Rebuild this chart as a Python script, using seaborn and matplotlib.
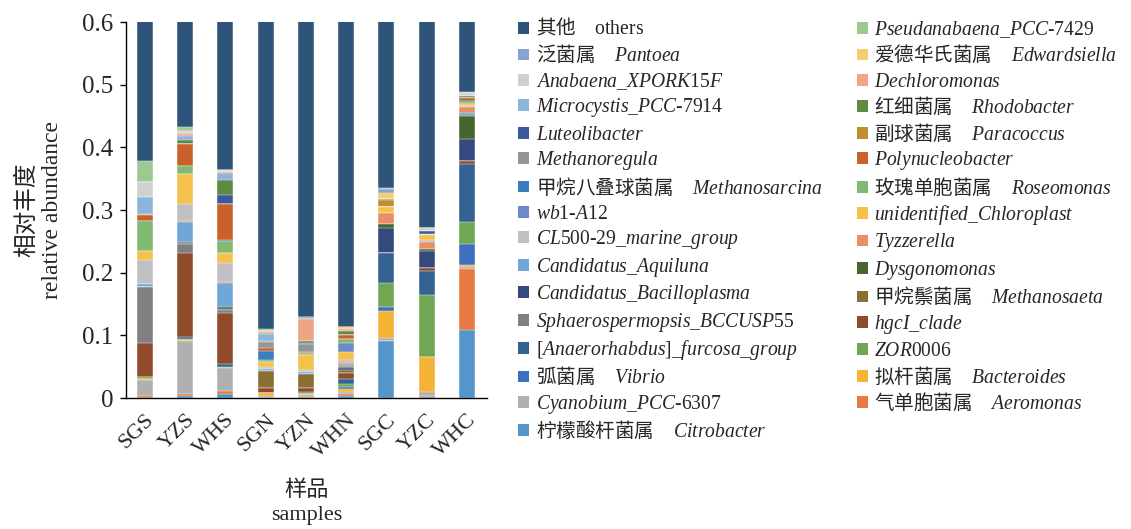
import numpy as np
import matplotlib
matplotlib.use("Agg")
import matplotlib.pyplot as plt
import seaborn as sns
from matplotlib.patches import Patch
from matplotlib.ticker import FuncFormatter
from matplotlib.font_manager import FontProperties

# Samples (sites x compartments)
samples = ["SGS", "YZS", "WHS", "SGN", "YZN", "WHN", "SGC", "YZC", "WHC"]

# Relative abundance of each genus per sample
citrobacter       = [0.000, 0.003, 0.006, 0.000, 0.000, 0.003, 0.0909, 0.002, 0.1085]
aeromonas         = [0.003, 0.003, 0.0057, 0.000, 0.002, 0.004, 0.000, 0.002, 0.0972]
cyanobium         = [0.026, 0.0855, 0.036, 0.004, 0.003, 0.003, 0.0053, 0.006, 0.0034]
bacteroides       = [0.002, 0.0015, 0.0005, 0.0035, 0.002, 0.0045, 0.0426, 0.0549, 0.003]
vibrio            = [0.000, 0.000, 0.000, 0.000, 0.000, 0.0025, 0.0062, 0.000, 0.033]
zor0006           = [0.002, 0.001, 0.001, 0.000, 0.001, 0.0053, 0.039, 0.0994, 0.0361]
anaerorhabdus     = [0.001, 0.003, 0.005, 0.000, 0.0015, 0.008, 0.0473, 0.0387, 0.0918]
hgci_clade        = [0.054, 0.135, 0.081, 0.0085, 0.007, 0.0096, 0.000, 0.0048, 0.005]
sphaerospermopsis = [0.089, 0.0135, 0.0055, 0.000, 0.000, 0.000, 0.000, 0.000, 0.000]
methanosaeta      = [0.000, 0.000, 0.000, 0.0265, 0.0218, 0.0048, 0.000, 0.000, 0.000]
bacilloplasma     = [0.000, 0.002, 0.002, 0.000, 0.000, 0.0027, 0.0403, 0.0272, 0.0351]
dysgonomonas      = [0.000, 0.0015, 0.002, 0.000, 0.000, 0.0026, 0.0059, 0.0021, 0.0367]
aquiluna          = [0.005, 0.032, 0.0383, 0.004, 0.003, 0.0031, 0.000, 0.000, 0.0058]
tyzzerella        = [0.000, 0.002, 0.002, 0.000, 0.000, 0.0026, 0.017, 0.0122, 0.009]
cl500_29          = [0.039, 0.026, 0.030, 0.003, 0.0034, 0.0053, 0.000, 0.0026, 0.002]
chloroplast       = [0.014, 0.048, 0.017, 0.0086, 0.0239, 0.0118, 0.0101, 0.008, 0.003]
wb1_a12           = [0.000, 0.001, 0.000, 0.000, 0.000, 0.0157, 0.000, 0.000, 0.000]
roseomonas        = [0.048, 0.0125, 0.018, 0.002, 0.0026, 0.0055, 0.000, 0.000, 0.003]
methanosarcina    = [0.000, 0.000, 0.002, 0.0154, 0.000, 0.000, 0.000, 0.000, 0.0017]
polynucleobacter  = [0.009, 0.0355, 0.058, 0.0043, 0.0027, 0.0064, 0.000, 0.000, 0.0044]
methanoregula     = [0.000, 0.000, 0.000, 0.0095, 0.0121, 0.000, 0.000, 0.000, 0.000]
paracoccus        = [0.000, 0.000, 0.000, 0.000, 0.000, 0.000, 0.0106, 0.0024, 0.000]
luteolibacter     = [0.000, 0.000, 0.0145, 0.000, 0.002, 0.000, 0.000, 0.0044, 0.000]
rhodobacter       = [0.002, 0.005, 0.024, 0.002, 0.0029, 0.0059, 0.0022, 0.000, 0.0036]
microcystis       = [0.026, 0.007, 0.010, 0.0105, 0.000, 0.000, 0.000, 0.000, 0.000]
dechloromonas     = [0.000, 0.003, 0.002, 0.0035, 0.0351, 0.004, 0.000, 0.000, 0.000]
anabaena          = [0.024, 0.003, 0.002, 0.002, 0.000, 0.000, 0.000, 0.0039, 0.0052]
edwardsiella      = [0.000, 0.002, 0.001, 0.000, 0.000, 0.0023, 0.0091, 0.000, 0.000]
pantoea           = [0.000, 0.001, 0.000, 0.000, 0.0027, 0.000, 0.0068, 0.000, 0.000]
pseudanabaena     = [0.034, 0.005, 0.001, 0.0025, 0.000, 0.000, 0.0013, 0.000, 0.001]

# Stacking order, bottom to top: (legend label, values, colour)
layers = [
    ("柠檬酸杆菌属\u3000$\\mathit{Citrobacter}$", citrobacter, "#5596CA"),
    ("气单胞菌属\u3000$\\mathit{Aeromonas}$", aeromonas, "#E67A40"),
    ("$\\mathit{Cyanobium\\_PCC}\\text{-}6307$", cyanobium, "#B0B0B3"),
    ("拟杆菌属\u3000$\\mathit{Bacteroides}$", bacteroides, "#F5B335"),
    ("弧菌属\u3000$\\mathit{Vibrio}$", vibrio, "#3F70BF"),
    ("$\\mathit{ZOR0006}$", zor0006, "#71A753"),
    ("$\\mathit{[Anaerorhabdus]\\_furcosa\\_group}$", anaerorhabdus, "#336293"),
    ("$\\mathit{hgcI\\_clade}$", hgci_clade, "#904B2C"),
    ("$\\mathit{Sphaerospermopsis\\_BCCUSP55}$", sphaerospermopsis, "#7E8083"),
    ("甲烷鬃菌属\u3000$\\mathit{Methanosaeta}$", methanosaeta, "#8A6F33"),
    ("$\\mathit{Candidatus\\_Bacilloplasma}$", bacilloplasma, "#344A7E"),
    ("$\\mathit{Dysgonomonas}$", dysgonomonas, "#46652F"),
    ("$\\mathit{Candidatus\\_Aquiluna}$", aquiluna, "#6FA8D6"),
    ("$\\mathit{Tyzzerella}$", tyzzerella, "#EA8E64"),
    ("$\\mathit{CL500}\\text{-}\\mathit{29\\_marine\\_group}$", cl500_29, "#C0C0C4"),
    ("$\\mathit{unidentified\\_Chloroplast}$", chloroplast, "#F5C04C"),
    ("$\\mathit{wb1}\\text{-}\\mathit{A12}$", wb1_a12, "#6C89C9"),
    ("玫瑰单胞菌属\u3000$\\mathit{Roseomonas}$", roseomonas, "#83B872"),
    ("甲烷八叠球菌属\u3000$\\mathit{Methanosarcina}$", methanosarcina, "#3A7EBF"),
    ("$\\mathit{Polynucleobacter}$", polynucleobacter, "#C8622A"),
    ("$\\mathit{Methanoregula}$", methanoregula, "#959595"),
    ("副球菌属\u3000$\\mathit{Paracoccus}$", paracoccus, "#BF8F30"),
    ("$\\mathit{Luteolibacter}$", luteolibacter, "#3A5A9C"),
    ("红细菌属\u3000$\\mathit{Rhodobacter}$", rhodobacter, "#5E8A44"),
    ("$\\mathit{Microcystis\\_PCC}\\text{-}7914$", microcystis, "#8DB4DC"),
    ("$\\mathit{Dechloromonas}$", dechloromonas, "#EDA585"),
    ("$\\mathit{Anabaena\\_XPORK15F}$", anabaena, "#D0D0D0"),
    ("爱德华氏菌属\u3000$\\mathit{Edwardsiella}$", edwardsiella, "#F5CC70"),
    ("泛菌属\u3000$\\mathit{Pantoea}$", pantoea, "#8AA2D0"),
    ("$\\mathit{Pseudanabaena\\_PCC}\\text{-}7429$", pseudanabaena, "#9ACA8E"),
]
# the remaining share of each sample is grouped as "others"
others = list(1.0 - np.sum([v for _, v, _ in layers], axis=0))
layers.append(("其他\u3000$\\mathrm{others}$", others, "#2E5579"))

sns.set_style("ticks")
plt.rcParams["font.family"] = ["Liberation Serif", "Noto Sans CJK SC"]
plt.rcParams["mathtext.fontset"] = "custom"
plt.rcParams["mathtext.rm"] = "Liberation Serif"
plt.rcParams["mathtext.it"] = "Liberation Serif:italic"

fig = plt.figure(figsize=(11.31, 5.29), dpi=100)
ax = fig.add_axes([0.1114, 0.2476, 0.3192, 0.7108])

# stacked columns: draw cumulative totals from the top layer downwards
tops = np.cumsum([v for _, v, _ in layers], axis=0)
for (label, vals, color), top in reversed(list(zip(layers, tops))):
    sns.barplot(x=samples, y=top, color=color, width=0.4, saturation=1,
                errorbar=None, edgecolor="white", linewidth=0.3, ax=ax)

ax.set_xlim(-0.47, 8.5)
ax.set_ylim(0, 0.6)
ax.set_yticks(np.arange(0, 0.61, 0.1))
ax.yaxis.set_major_formatter(FuncFormatter(lambda v, p: f"{v:g}"))
ax.tick_params(axis="y", length=4, width=1, direction="out", labelsize=18,
               color="black", pad=5)
ax.tick_params(axis="x", length=0, labelsize=16, pad=9)
for lab in ax.get_xticklabels():
    lab.set_rotation(45)
    lab.set_ha("right")
    lab.set_rotation_mode("anchor")

sns.despine(ax=ax)
for side in ("left", "bottom"):
    ax.spines[side].set_color("black")
    ax.spines[side].set_linewidth(1)

ax.set_ylabel("相对丰度\nrelative abundance", fontsize=17, labelpad=14,
              linespacing=1.25)
ax.set_xlabel("样品\nsamples", fontsize=16, labelpad=14, linespacing=1.35)

# legend: reversed stack order, filled row by row into two columns
rev = list(reversed(layers))
left_col = rev[0::2]
right_col = rev[1::2]
handles = [Patch(facecolor=c, edgecolor="none") for _, _, c in left_col + right_col]
labels = [l for l, _, _ in left_col + right_col]
fig.legend(handles, labels, loc="upper left", bbox_to_anchor=(0.4515, 0.981),
           ncol=2, frameon=False, prop=FontProperties(family="Noto Sans CJK SC", size=14.1),
           handlelength=0.55, handleheight=0.55, handletextpad=0.35,
           labelspacing=0.225, columnspacing=1.75, borderaxespad=0)

fig.savefig("out.png", dpi=100, facecolor="white")
